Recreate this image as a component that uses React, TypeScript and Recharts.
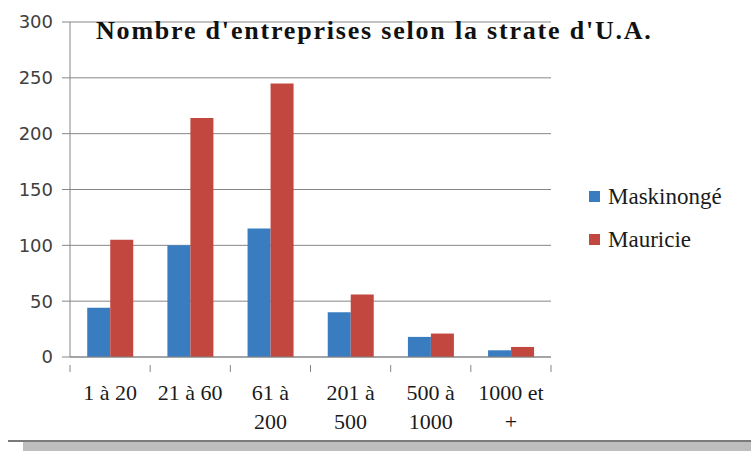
import { BarChart, Bar, XAxis, YAxis, CartesianGrid } from "recharts";

const categories = ["1 à 20", "21 à 60", "61 à 200", "201 à 500", "500 à 1000", "1000 et +"];
const tickLines = [["1 à 20"], ["21 à 60"], ["61 à", "200"], ["201 à", "500"], ["500 à", "1000"], ["1000 et", "+"]];
const maskinonge = [44, 100, 115, 40, 18, 6];
const mauricie = [105, 214, 245, 56, 21, 9];
const yTicks = [0, 50, 100, 150, 200, 250, 300];

const seriesNames = ["Maskinongé", "Mauricie"];
const BLUE = "#397CC0";
const RED = "#C1473F";
const GRID = "#868686";
const SERIF = "'Liberation Serif', 'Times New Roman', serif";

const data = categories.map((c, i) => ({
  name: c,
  maskinonge: maskinonge[i],
  mauricie: mauricie[i],
}));

const PLOT_LEFT = 70;
const PLOT_RIGHT = 551;
const BAND = (PLOT_RIGHT - PLOT_LEFT) / categories.length;

// eslint-disable-next-line @typescript-eslint/no-explicit-any
function XTick(props: any) {
  const { x, y, index } = props;
  const lines = tickLines[index] ?? [categories[index]];
  const isLast = index === categories.length - 1;
  return (
    <g>
      <line x1={x - BAND / 2} x2={x - BAND / 2} y1={y} y2={y + 7} stroke={GRID} />
      {isLast && <line x1={x + BAND / 2} x2={x + BAND / 2} y1={y} y2={y + 7} stroke={GRID} />}
      {lines.map((t: string, i: number) => (
        <text
          key={i}
          x={x}
          y={y + 35 + i * 29}
          textAnchor="middle"
          fill="#1a1a1a"
          style={{ fontFamily: SERIF, fontSize: 22 }}
        >
          {t}
        </text>
      ))}
    </g>
  );
}

function LegendBox() {
  const colors = [BLUE, RED];
  return (
    <div style={{ position: "absolute", left: 589, top: 175, fontFamily: SERIF, fontSize: 23, color: "#1a1a1a" }}>
      {seriesNames.map((n, i) => (
        <div key={n} style={{ display: "flex", alignItems: "center", height: 43 }}>
          <span style={{ width: 11, height: 11, background: colors[i], display: "inline-block", marginRight: 8 }} />
          <span>{n}</span>
        </div>
      ))}
    </div>
  );
}

export default function App() {
  return (
    <div style={{ position: "absolute", left: 0, top: 0, width: 751, height: 451, background: "#fff", overflow: "hidden" }}>
      <BarChart
        width={751}
        height={451}
        data={data}
        margin={{ top: 22, right: 200, left: 0, bottom: 34 }}
        barCategoryGap="21.5%"
        barGap={0}
      >
        <CartesianGrid vertical={false} stroke={GRID} />
        <XAxis
          dataKey="name"
          interval={0}
          height={60}
          tickLine={false}
          axisLine={{ stroke: GRID }}
          tick={<XTick />}
        />
        <YAxis
          width={70}
          domain={[0, 300]}
          ticks={yTicks}
          axisLine={{ stroke: GRID }}
          tickLine={{ stroke: GRID }}
          tickSize={8}
          tickMargin={9}
          tick={{ fill: "#404040", fontSize: 18, fontFamily: "'DejaVu Sans', sans-serif" }}
        />
        <Bar dataKey="maskinonge" name={seriesNames[0]} fill={BLUE} isAnimationActive={false} />
        <Bar dataKey="mauricie" name={seriesNames[1]} fill={RED} isAnimationActive={false} />
      </BarChart>
      <div
        style={{
          position: "absolute",
          left: 96,
          top: 16,
          fontFamily: SERIF,
          fontWeight: "bold",
          fontSize: 26,
          letterSpacing: 1.8,
          color: "#111",
          whiteSpace: "nowrap",
        }}
      >
        Nombre d'entreprises selon la strate d'U.A.
      </div>
      <LegendBox />
      <div style={{ position: "absolute", left: 8, top: 440, width: 743, height: 2, background: "#7a7a7a" }} />
      <div style={{ position: "absolute", left: 23, top: 442, width: 728, height: 9, background: "#bdbdbd" }} />
    </div>
  );
}
